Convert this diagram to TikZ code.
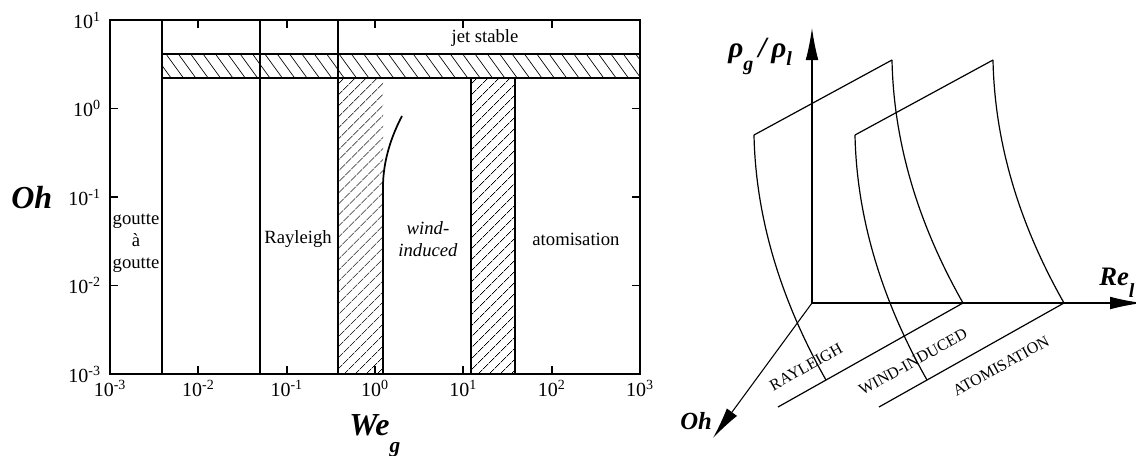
\documentclass[tikz,border=0pt]{standalone}
\usepackage{fontspec}
\setmainfont{Liberation Serif}[BoldItalicFont={Liberation Serif Bold Italic}]
\usetikzlibrary{arrows.meta,patterns.meta}

\tikzset{
  frame/.style={line width=1.3pt},
  thin3d/.style={line width=0.9pt},
  hatchup/.style={pattern={Lines[angle=45,distance=6.5pt,line width=0.5pt]}},
  hatchdown/.style={pattern={Lines[angle=-54,distance=7.5pt,line width=0.5pt]}},
  ticklab/.style={font=\fontsize{15}{17}\selectfont,inner sep=0pt},
  region/.style={font=\fontsize{14}{16.5}\selectfont,align=center,inner sep=0pt},
  floorlab/.style={font=\fontsize{12}{14}\selectfont,rotate=29,inner sep=0pt},
  bigit/.style={font=\bfseries\itshape,inner sep=0pt},
  axis3d/.style={line width=0.8pt,-{Latex[length=24pt,width=9.5pt]}},
}

\begin{document}
\begin{tikzpicture}[x=0.75pt,y=-0.75pt]
\useasboundingbox (0,0) rectangle (1136,455);

% left: regime map Oh vs We_g
\fill[hatchdown] (162,54) rectangle (640,78);
\fill[hatchup] (338,78) rectangle (383,374);
\fill[hatchup] (471,78) rectangle (515,374);

\draw[frame] (110,20) rectangle (640,374);
\draw[frame] (162,54) -- (640,54);
\draw[frame] (162,78) -- (640,78);
\draw[frame] (162,20) -- (162,374);
\draw[frame] (260,20) -- (260,374);
\draw[frame] (338,20) -- (338,374);
\draw[frame] (471,78) -- (471,374);
\draw[frame] (515,78) -- (515,374);
\draw[frame] (383,374) -- (383,187) .. controls +(0,-27) and +(-10,19) .. (402,116);

\foreach \xx in {198.3,286.7,375,463.3,551.7} {
  \draw[frame] (\xx,374) -- (\xx,366);
  \draw[frame] (\xx,20) -- (\xx,28);
}
\foreach \yy in {108.5,197,285.5} {
  \draw[frame] (110,\yy) -- (118,\yy);
  \draw[frame] (640,\yy) -- (632,\yy);
}

\foreach \k/\xx in {-3/110,-2/198.3,-1/286.7,0/375,1/463.3,2/551.7,3/640}
  \node[ticklab,anchor=north] (wx\k) at (\xx,380) {10\textsuperscript{\k}};
\foreach \k/\yy in {1/20,0/108.5,-1/197,-2/285.5,-3/374}
  \node[ticklab,anchor=east] (oy\k) at (101,\yy) {10\textsuperscript{\k}};

\node[region] (jet) at (485,38) {jet stable};
\node[region] (gag) at (136,243) {goutte\\à\\goutte};
\node[region] (ray) at (298,239) {Rayleigh};
\node[region,font=\fontsize{14}{17}\selectfont\itshape] (wind) at (428,239) {wind-\\induced};
\node[region] (atom) at (576,239) {atomisation};

\node[bigit,anchor=base west,font=\fontsize{24}{28}\selectfont\bfseries\itshape] (ohl) at (11,208) {Oh};
\node[bigit,anchor=base west,font=\fontsize{24}{28}\selectfont\bfseries\itshape] (weg) at (349,435)
  {We\raisebox{-0.55em}{\fontsize{16}{18}\selectfont g}};

% right: 3D regime sketch
\coordinate (O) at (812,303);
\coordinate (rhotip) at (812,28);
\coordinate (retip) at (1142,303);
\coordinate (ohtip) at (713,438);

\coordinate (A1) at (754,135);
\coordinate (C1) at (892,60);
\coordinate (B1) at (826,380);
\coordinate (D1) at (963,303);
\coordinate (E1) at (778,407);
\coordinate (A2) at (855,135);
\coordinate (C2) at (993,60);
\coordinate (B2) at (927,380);
\coordinate (D2) at (1064,303);
\coordinate (E2) at (879,407);

\draw[axis3d] (O) -- (rhotip);
\draw[axis3d] (O) -- (retip);
\draw[axis3d] (O) -- (ohtip);

\foreach \s in {1,2} {
  \draw[thin3d] (A\s) -- (C\s);
  \draw[thin3d] (E\s) -- (D\s);
  \draw[thin3d] (A\s) .. controls +(2,100) and +(-34,-60) .. (B\s);
  \draw[thin3d] (C\s) .. controls +(2,100) and +(-34,-60) .. (D\s);
}

\node[floorlab] (lray) at (806,367) {RAYLEIGH};
\node[floorlab] (lwind) at (913,362) {WIND-INDUCED};
\node[floorlab] (latom) at (1001,366) {ATOMISATION};

\node[bigit,anchor=base west,font=\fontsize{22}{26}\selectfont\bfseries\itshape] (rho) at (728,57)
  {ρ\raisebox{-0.45em}{\fontsize{15}{17}\selectfont g}\,/\,ρ\raisebox{-0.3em}{\fontsize{15}{17}\selectfont l}};
\node[bigit,anchor=base west,font=\fontsize{20}{24}\selectfont\bfseries\itshape] (rel) at (1099,285)
  {Re\raisebox{-0.45em}{\fontsize{15}{17}\selectfont l}};
\node[bigit,anchor=base west,font=\fontsize{18.5}{22}\selectfont\bfseries\itshape] (oh3) at (680,429) {Oh};
\end{tikzpicture}
\end{document}
